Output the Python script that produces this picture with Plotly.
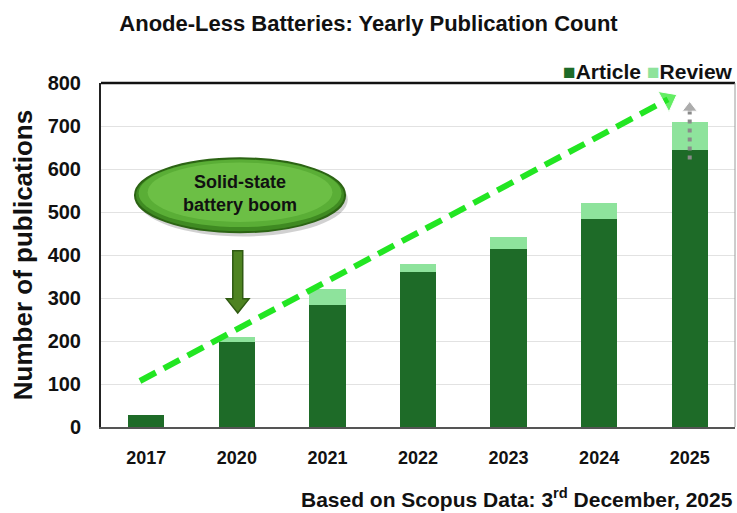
import plotly.graph_objects as go

# Yearly publication counts (Scopus)
years = ["2017", "2020", "2021", "2022", "2023", "2024", "2025"]
articles = [28, 198, 283, 361, 415, 484, 644]
reviews = [0, 11, 37, 18, 28, 38, 66]

ARTICLE_COLOR = "#1e6b28"
REVIEW_COLOR = "#8ee39c"
FONT = "Liberation Sans, Arial, sans-serif"

xpos = list(range(len(years)))

fig = go.Figure()
fig.add_trace(go.Bar(x=xpos, y=articles, name="Article", marker_color=ARTICLE_COLOR,
                     marker_line_width=0, width=0.4, showlegend=False))
fig.add_trace(go.Bar(x=xpos, y=reviews, name="Review", marker_color=REVIEW_COLOR,
                     marker_line_width=0, width=0.4, showlegend=False))

# Growth trend arrow (dashed, bright green)
trend_x = [-0.07, 5.76]
trend_y = [107, 762]
fig.add_trace(go.Scatter(
    x=trend_x, y=trend_y, mode="lines+markers", showlegend=False, hoverinfo="skip",
    line=dict(color="#22e622", width=6, dash="18px,9px"),
    marker=dict(symbol="triangle-up", size=[0, 20], color="#22e622", angleref="previous"),
))

# Projection arrow above the 2025 bar (dotted grey)
proj_x = [6, 6]
proj_y = [622, 742]
fig.add_trace(go.Scatter(
    x=proj_x, y=proj_y, mode="lines+markers", showlegend=False, hoverinfo="skip",
    line=dict(color="#8a8a8a", width=4, dash="4px,5px"),
    marker=dict(symbol="triangle-up", size=[0, 13], color="#8a8a8a", angleref="previous"),
))

# "Solid-state battery boom" callout bubble
cx, cy = 1.035, 539
rx, ry = 1.16, 86
shapes = [
    dict(type="circle", xref="x", yref="y", x0=cx - rx + 0.03, x1=cx + rx + 0.03,
         y0=cy - ry - 10, y1=cy + ry - 10, fillcolor="rgba(0,0,0,0.18)", line_width=0, layer="above"),
    dict(type="circle", xref="x", yref="y", x0=cx - rx, x1=cx + rx, y0=cy - ry, y1=cy + ry,
         fillcolor="#3f8a22", line=dict(color="#2c6414", width=2), layer="above"),
    dict(type="circle", xref="x", yref="y", x0=cx - rx + 0.04, x1=cx + rx - 0.04,
         y0=cy - ry + 12, y1=cy + ry - 3, fillcolor="#5aae36", line_width=0, layer="above"),
    dict(type="circle", xref="x", yref="y", x0=cx - rx + 0.14, x1=cx + rx - 0.14,
         y0=cy - ry + 24, y1=cy + ry - 10, fillcolor="#6cbf45", line_width=0, layer="above"),
]

# Block arrow pointing down at 2020
ax, a_top, a_neck, a_tip = 1.01, 410, 298, 265
sw, hw = 0.055, 0.125
arrow_path = (f"M{ax - sw},{a_top} L{ax + sw},{a_top} L{ax + sw},{a_neck} L{ax + hw},{a_neck} "
              f"L{ax},{a_tip} L{ax - hw},{a_neck} L{ax - sw},{a_neck} Z")
shapes.append(dict(type="path", xref="x", yref="y", path=arrow_path, fillcolor="#4e8321",
                   line=dict(color="#2f5a12", width=1.5), layer="above"))

# Plot frame: heavy top border and thin right border
shapes.append(dict(type="line", xref="paper", yref="paper", x0=0, x1=1, y0=1, y1=1,
                   line=dict(color="#111111", width=2.5)))
shapes.append(dict(type="line", xref="paper", yref="paper", x0=1, x1=1, y0=0, y1=1,
                   line=dict(color="#9a9a9a", width=1)))

legend_text = (f"<span style='color:{ARTICLE_COLOR}'>■</span>Article "
               f"<span style='color:{REVIEW_COLOR}'>■</span>Review")

annotations = [
    dict(x=cx, y=cy + 3, xref="x", yref="y", text="Solid-state<br>battery boom", showarrow=False,
         font=dict(family=FONT, size=18, color="#111111", weight="bold")),
    dict(x=1.0, y=0.993, xref="paper", yref="paper", xanchor="right", yanchor="bottom",
         text=legend_text, showarrow=False,
         font=dict(family=FONT, size=21, color="#111111", weight="bold")),
    dict(x=1, y=-0.205, xref="paper", yref="paper", xanchor="right", yanchor="middle",
         text="Based on Scopus Data: 3<sup style='font-size:70%'>rd</sup> December, 2025",
         showarrow=False,
         font=dict(family=FONT, size=21, color="#111111", weight="bold")),
]

fig.update_layout(
    width=737, height=513,
    margin=dict(l=101, r=2, t=83, b=86),
    paper_bgcolor="white", plot_bgcolor="white",
    barmode="stack",
    showlegend=False,
    title=dict(text="Anode-Less Batteries: Yearly Publication Count", x=0.5, xref="container",
               xanchor="center", y=0.955, yanchor="middle",
               font=dict(family=FONT, size=22, color="#111111", weight="bold")),
    shapes=shapes,
    annotations=annotations,
    xaxis=dict(range=[-0.5, 6.5], tickmode="array", tickvals=xpos, ticktext=years,
               showgrid=False, zeroline=False, showline=True, linecolor="#555555", linewidth=2,
               ticks="", ticklabelstandoff=13,
               tickfont=dict(family=FONT, size=18, color="#111111", weight="bold")),
    yaxis=dict(range=[0, 800], dtick=100, showgrid=True, gridcolor="#e2e2e2", gridwidth=1,
               zeroline=False, showline=True, linecolor="#222222", linewidth=2,
               ticks="", ticklabelstandoff=14,
               tickfont=dict(family=FONT, size=20, color="#111111", weight="bold"),
               title=dict(text="Number of publications", standoff=8,
                          font=dict(family=FONT, size=26, color="#111111", weight="bold"))),
    bargap=0.6,
)

fig.write_html("out.html")
